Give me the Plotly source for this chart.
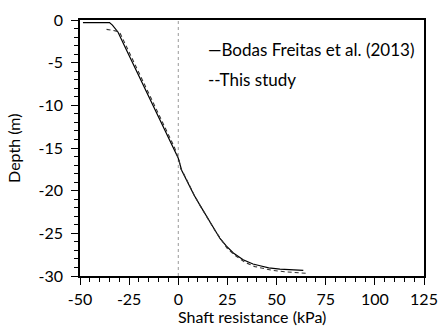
import plotly.graph_objects as go

# Bodas Freitas et al. (2013)
bf_res = [-48.5, -35, -33.5, -32, -30.7, -26, -21, -14.5, -8, -3, 0, 1.7, 5, 8, 11, 14.5,
          17.8, 21.2, 24.5, 28, 33, 38, 41.6, 46, 51.7, 57, 63.6]
bf_depth = [-0.3, -0.3, -0.6, -1.0, -1.4, -3.7, -6.1, -9.3, -12.4, -14.8, -16.2, -17.6, -19.2,
            -20.5, -21.7, -23.0, -24.2, -25.6, -26.5, -27.3, -28.1, -28.6, -28.8, -29.05,
            -29.2, -29.3, -29.35]

# This study
ts_res = [-36.5, -33, -31.5, -29.5, -25, -20, -13.5, -7, -2, 0.5, 1.2, 2.5, 5.5, 8.5, 11.5,
          15, 18.5, 22, 25, 29, 34, 39, 43, 48, 54, 60, 66]
ts_depth = [-1.1, -1.2, -1.3, -1.6, -3.8, -6.2, -9.4, -12.5, -14.9, -16.5, -17.4, -17.9,
            -19.4, -20.7, -21.9, -23.3, -24.6, -25.8, -26.8, -27.6, -28.4, -28.9, -29.1,
            -29.35, -29.5, -29.6, -29.7]

x_ticks = [-50, -25, 0, 25, 50, 75, 100, 125]
y_ticks = [0, -5, -10, -15, -20, -25, -30]
x_minor = list(range(-50, 126, 5))
y_minor = list(range(-30, 1, 1))
x_range = [-50, 125]
y_range = [-30, 0]

FONT = "Lato"
FS = 16

fig = go.Figure()
fig.add_trace(go.Scatter(x=bf_res, y=bf_depth, mode="lines",
                         line=dict(color="black", width=1.2), showlegend=False))
fig.add_trace(go.Scatter(x=ts_res, y=ts_depth, mode="lines",
                         line=dict(color="#333333", width=1.1, dash="4px,3px"), showlegend=False))

fig.add_shape(type="line", x0=0, x1=0, y0=-30, y1=0, xref="x", yref="y",
              line=dict(color="#999999", width=1, dash="dot"), layer="below")

fig.add_annotation(x=0.366, y=0.883, xref="paper", yref="paper", xanchor="left",
                   yanchor="middle", showarrow=False, text="\u2014Bodas Freitas et al. (2013)",
                   font=dict(family=FONT, size=17, color="black"))
fig.add_annotation(x=0.366, y=0.766, xref="paper", yref="paper", xanchor="left",
                   yanchor="middle", showarrow=False, text="--This study",
                   font=dict(family=FONT, size=17, color="black"))

# axis titles
fig.add_annotation(x=0.5, y=-0.199, xref="paper", yref="paper", xanchor="center",
                   yanchor="bottom", showarrow=False, text="Shaft resistance (kPa)",
                   borderpad=0, font=dict(family=FONT, size=FS, color="black"))
fig.add_annotation(x=-0.195, y=0.5, xref="paper", yref="paper", xanchor="center",
                   yanchor="middle", showarrow=False, text="Depth (m)", textangle=-90,
                   font=dict(family=FONT, size=FS, color="black"))

fig.update_layout(
    width=439, height=327,
    margin=dict(l=80, r=15, t=20, b=51),
    plot_bgcolor="white", paper_bgcolor="white",
    font=dict(family=FONT, size=FS, color="black"),
    xaxis=dict(range=x_range, tickmode="array", tickvals=x_ticks,
               ticktext=[str(v) for v in x_ticks],
               ticks="outside", ticklen=7, tickwidth=1, tickcolor="black",
               ticklabelstandoff=1, automargin=False,
               minor=dict(tickmode="array", tickvals=x_minor, ticks="outside", ticklen=4,
                          tickwidth=1, tickcolor="black"),
               showline=True, linecolor="black", linewidth=1.5, mirror=True,
               showgrid=False, zeroline=False),
    yaxis=dict(range=y_range, tickmode="array", tickvals=y_ticks,
               ticktext=[str(v) for v in y_ticks],
               ticks="outside", ticklen=7, tickwidth=1, tickcolor="black",
               ticklabelstandoff=5, automargin=False,
               minor=dict(tickmode="array", tickvals=y_minor, ticks="outside", ticklen=4,
                          tickwidth=1, tickcolor="black"),
               showline=True, linecolor="black", linewidth=1.5, mirror=True,
               showgrid=False, zeroline=False),
)

fig.write_html("out.html")
